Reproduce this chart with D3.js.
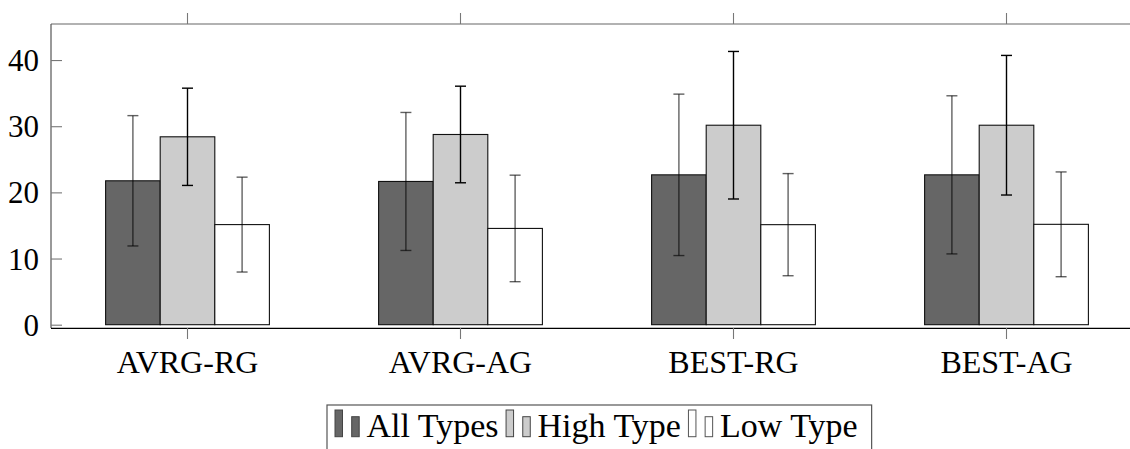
<!DOCTYPE html>
<html>
<head>
<meta charset="utf-8">
<script src="https://cdn.jsdelivr.net/npm/d3@7"></script>
<style>
  html, body { margin: 0; padding: 0; background: #fff; }
  svg { display: block; }
  text { font-family: "Liberation Serif", "DejaVu Serif", serif; fill: #000; }
</style>
</head>
<body>
<svg id="chart" width="1130" height="449"></svg>
<script>
const categories = ["AVRG-RG", "AVRG-AG", "BEST-RG", "BEST-AG"];
const seriesNames = ["All Types", "High Type", "Low Type"];
const allMean  = [21.75, 21.65, 22.65, 22.65];
const allErr   = [9.85, 10.43, 12.2, 11.95];
const highMean = [28.4, 28.75, 30.15, 30.15];
const highErr  = [7.35, 7.3, 11.15, 10.55];
const lowMean  = [15.13, 14.55, 15.12, 15.17];
const lowErr   = [7.17, 8.05, 7.72, 7.92];
const yTicks   = [0, 10, 20, 30, 40];

(function () {
const fills = ["#666666", "#cccccc", "#ffffff"];
const errColors = ["rgba(0,0,0,0.62)", "#000", "rgba(0,0,0,0.62)"];
const means = [allMean, highMean, lowMean];
const errs = [allErr, highErr, lowErr];

const svg = d3.select("#chart");
const pLeft = 51, pRight = 1143, pTop = 24, pBottom = 328;

const x = d3.scaleBand().domain(categories).range([pLeft, pRight]).padding(0);
const y = d3.scaleLinear().domain([-0.5, 45.45]).range([pBottom, pTop]);
const barW = x.bandwidth() * 0.2;

// bars
seriesNames.forEach((s, si) => {
  const g = svg.append("g");
  g.selectAll("rect").data(categories).join("rect")
    .attr("x", (c) => x(c) + x.bandwidth() / 2 + (si - 1) * barW - barW / 2)
    .attr("width", barW)
    .attr("y", (c, i) => y(means[si][i]))
    .attr("height", (c, i) => y(0) - y(means[si][i]))
    .attr("fill", fills[si])
    .attr("stroke", "#111")
    .attr("stroke-width", 1.1);
});

// error bars
seriesNames.forEach((s, si) => {
  const g = svg.append("g").attr("stroke", errColors[si]).attr("stroke-width", 1.4).attr("fill", "none");
  categories.forEach((c, i) => {
    const cx = x(c) + x.bandwidth() / 2 + (si - 1) * barW;
    const hi = y(means[si][i] + errs[si][i]);
    const lo = y(means[si][i] - errs[si][i]);
    g.append("line").attr("x1", cx).attr("x2", cx).attr("y1", hi).attr("y2", lo);
    g.append("line").attr("x1", cx - 5.5).attr("x2", cx + 5.5).attr("y1", hi).attr("y2", hi);
    g.append("line").attr("x1", cx - 5.5).attr("x2", cx + 5.5).attr("y1", lo).attr("y2", lo);
  });
});

// axis frame
svg.append("line").attr("x1", pLeft).attr("x2", pRight).attr("y1", pTop).attr("y2", pTop)
  .attr("stroke", "#666").attr("stroke-width", 1.2);
svg.append("line").attr("x1", pLeft).attr("x2", pLeft).attr("y1", pTop).attr("y2", pBottom)
  .attr("stroke", "#555").attr("stroke-width", 1.2);
svg.append("line").attr("x1", pRight).attr("x2", pRight).attr("y1", pTop).attr("y2", pBottom)
  .attr("stroke", "#555").attr("stroke-width", 1.2);
svg.append("line").attr("x1", pLeft).attr("x2", pRight).attr("y1", pBottom + 0.3).attr("y2", pBottom + 0.3)
  .attr("stroke", "#000").attr("stroke-width", 1.2);

// y axis
const yAxis = d3.axisLeft(y).tickValues(yTicks).tickSizeInner(-11).tickSizeOuter(0).tickPadding(23);
const ya = svg.append("g").attr("transform", `translate(${pLeft},0)`).call(yAxis);
ya.select(".domain").remove();
ya.selectAll(".tick line").attr("stroke", "#777").attr("stroke-width", 1.1);
ya.selectAll(".tick text").attr("font-size", 31).attr("font-family", "Liberation Serif")
  .style("font-family", "'Liberation Serif', 'DejaVu Serif', serif")
  .attr("dy", "0.34em").attr("x", -12).attr("fill", "#000");

// x axis bottom
const xAxisB = d3.axisBottom(x).tickSizeInner(11).tickSizeOuter(0).tickPadding(13);
const xb = svg.append("g").attr("transform", `translate(0,${pBottom})`).call(xAxisB);
xb.select(".domain").remove();
xb.selectAll(".tick line").attr("stroke", "#777").attr("stroke-width", 1.1);
xb.selectAll(".tick text").attr("font-size", 32).attr("font-family", "Liberation Serif")
  .style("font-family", "'Liberation Serif', 'DejaVu Serif', serif")
  .attr("dy", null).attr("y", 44.5).attr("fill", "#000");

// x axis top ticks
const xAxisT = d3.axisTop(x).tickSizeInner(11).tickSizeOuter(0).tickFormat("");
const xt = svg.append("g").attr("transform", `translate(0,${pTop})`).call(xAxisT);
xt.select(".domain").remove();
xt.selectAll(".tick line").attr("stroke", "#777").attr("stroke-width", 1.1);

// legend
const leg = svg.append("g");
const legTop = 405, legLeft = 327, baseline = 436.7;
let lx = 335;
const itemsG = leg.append("g");
seriesNames.forEach((s, si) => {
  const stroke = si === 2 ? "#555" : "#444";
  itemsG.append("rect").attr("x", lx).attr("y", baseline - 26.7).attr("width", 7.5).attr("height", 26.7)
    .attr("fill", fills[si]).attr("stroke", stroke).attr("stroke-width", 1);
  itemsG.append("rect").attr("x", lx + 16.7).attr("y", baseline - 20).attr("width", 7.5).attr("height", 20)
    .attr("fill", fills[si]).attr("stroke", stroke).attr("stroke-width", 1);
  const t = itemsG.append("text").attr("x", lx + 31.5).attr("y", baseline)
    .attr("font-size", 34).text(s);
  const w = t.node().getComputedTextLength();
  lx = lx + 31.5 + w + 7.5;
});
const legRight = lx - 7.5 + 14;
leg.insert("rect", ":first-child").attr("x", legLeft).attr("y", legTop)
  .attr("width", legRight - legLeft).attr("height", 60)
  .attr("fill", "#fff").attr("stroke", "#555").attr("stroke-width", 1.2);
})();
</script>
</body>
</html>
